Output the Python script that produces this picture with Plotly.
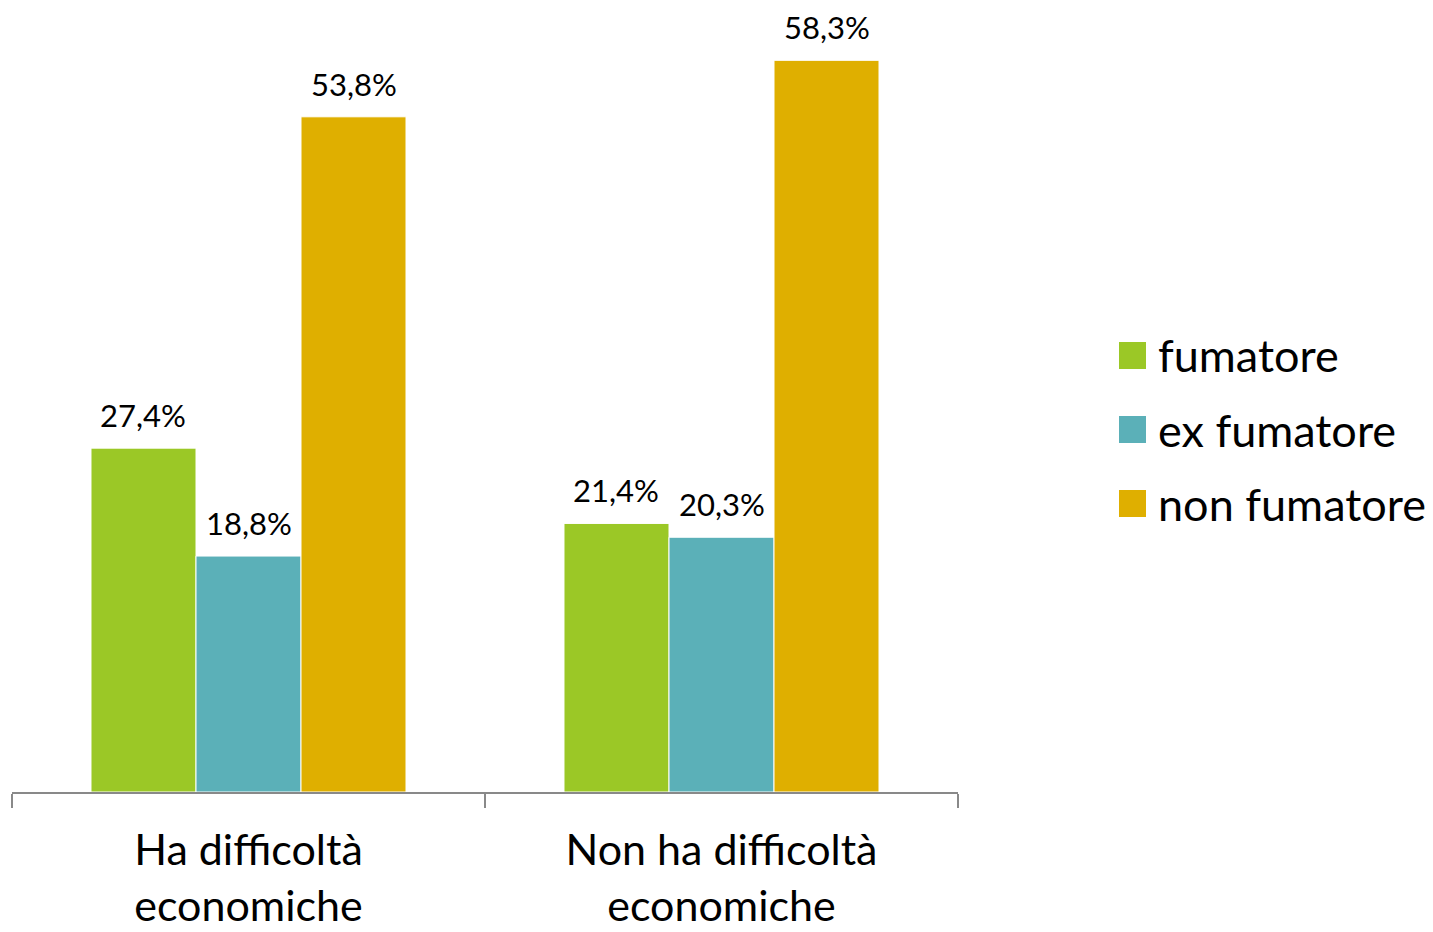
import plotly.graph_objects as go

categories = ["Ha difficoltà<br>economiche", "Non ha difficoltà<br>economiche"]
series_names = ["fumatore", "ex fumatore", "non fumatore"]
fumatore = [27.4, 21.4]
ex_fumatore = [18.8, 20.3]
non_fumatore = [53.8, 58.3]
series_values = [fumatore, ex_fumatore, non_fumatore]
colors = ["#9BC826", "#5BB0B8", "#DFAF00"]

W, H = 1433, 932
OFF = 8  # page body margin
L, T = 12 - OFF, 39 - OFF
plot_w = 946
plot_h = 753
R = W - L - plot_w
B = H - T - plot_h
FONT = "Lato"

fig = go.Figure()
for name, vals, col in zip(series_names, series_values, colors):
    fig.add_trace(go.Bar(
        x=categories, y=vals, name=name,
        marker=dict(color=col, line=dict(color="white", width=1)),
        showlegend=False,
    ))

# data labels
bar_px = plot_w / 2 * (1 - 0.334) / 3
for i, vals in enumerate(series_values):
    for c, v in zip(categories, vals):
        fig.add_annotation(
            x=c, y=v, xref="x", yref="y",
            text=f"{v:.1f}".replace(".", ",") + "%",
            showarrow=False, yanchor="bottom", xanchor="center",
            xshift=(i - 1) * bar_px, yshift=12,
            font=dict(family=FONT, size=31, color="black"),
        )

# manual legend (coordinates given in screenshot pixels)
def px_x(px):
    return (px - OFF - L) / plot_w
def px_y(py):
    return (T + plot_h - (py - OFF)) / plot_h

for k, (name, col) in enumerate(zip(series_names, colors)):
    cy = 355.5 + k * 74
    fig.add_shape(
        type="rect", xref="paper", yref="paper",
        x0=px_x(1119), x1=px_x(1146), y0=px_y(cy + 13.5), y1=px_y(cy - 13.5),
        fillcolor=col, line=dict(width=0),
    )
    fig.add_annotation(
        x=px_x(1156), y=px_y(cy), xref="paper", yref="paper",
        text=name, showarrow=False, xanchor="left", yanchor="middle",
        font=dict(family=FONT, size=45, color="black"),
    )

fig.update_layout(
    width=W, height=H,
    margin=dict(l=L, r=R, t=T, b=B, pad=0),
    paper_bgcolor="white", plot_bgcolor="white",
    barmode="group", bargap=0.334, bargroupgap=0,
    font=dict(family=FONT, color="black"),
)
fig.update_xaxes(
    showline=True, linecolor="#898989", linewidth=2,
    ticks="outside", tickson="boundaries", ticklen=14, tickwidth=2, tickcolor="#898989",
    tickfont=dict(family=FONT, size=43, color="black"),
    ticklabelstandoff=19,
    showgrid=False,
)
fig.update_yaxes(range=[0, 60], visible=False, showgrid=False)

fig.write_html("out.html")
